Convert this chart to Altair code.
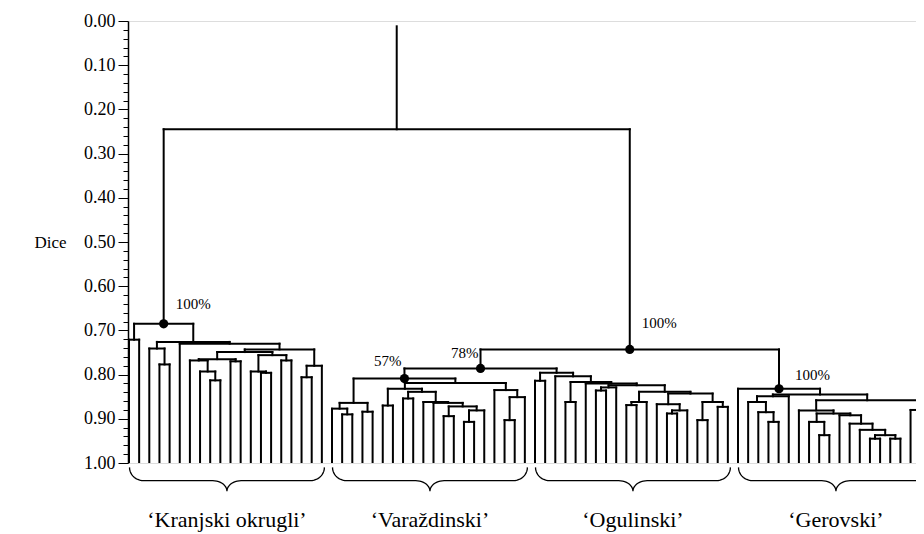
import altair as alt
import pandas as pd
import numpy as np

# ---------------- data: dendrogram (height, left, right); ints are leaf indices ----------------
kranjski = (0.685, (0.721, 0, 1),
            (0.726, (0.741, 2, (0.777, 3, 4)),
                    (0.730, 5,
                     (0.743,
                      (0.749,
                       (0.765, (0.768, 6, (0.793, 7, (0.813, 8, 9))), (0.770, 10, 11)),
                       (0.756, (0.793, 12, (0.796, 13, 14)), (0.768, 15, 16))),
                      (0.780, (0.806, 17, 18), 19)))))

varazdinski = (0.809,
               (0.864, (0.877, 20, (0.890, 21, 22)), (0.884, 23, 24)),
               (0.819,
                (0.832, (0.870, 25, 26),
                 (0.839, (0.854, 27, 28),
                  (0.862, 29, (0.864, 30, (0.872, (0.894, 31, 32),
                                           (0.881, (0.907, 33, 34), 35)))))),
                (0.835, 36, (0.851, (0.903, 37, 38), 39))))

ogulinski = (0.796, (0.814, 40, 41),
             (0.804, 42,
              (0.817, (0.862, 43, 44),
               (0.820, 45,
                (0.824, (0.829, (0.836, 46, 47), 48),
                 (0.839, (0.862, (0.869, 49, 50), 51),
                  (0.843, (0.867, 52, (0.881, (0.888, 53, 54), 55)),
                          (0.862, (0.903, 56, 57), (0.873, 58, 59)))))))))

gerovski = (0.832, 60,
            (0.845,
             (0.849, (0.862, 61, (0.885, 62, (0.907, 63, 64))), 65),
             (0.858,
              (0.881, 66,
               (0.888, (0.907, 67, (0.937, 68, 69)),
                (0.892, 70, (0.911, 71, (0.925, 72,
                                          (0.937, (0.945, 73, 74), (0.945, 75, 76))))))),
              (0.880, 77, (0.888, 78, 79)))))

node78 = (0.786, varazdinski, ogulinski)
nodeR = (0.743, node78, gerovski)
root = (0.245, kranjski, nodeR)
root_stem_top = 0.012

support_labels = ["100%", "57%", "78%", "100%", "100%"]
support_nodes = [kranjski, varazdinski, node78, nodeR, gerovski]

group_names = ["\u2018Kranjski okrugli\u2019", "\u2018Vara\u017edinski\u2019",
               "\u2018Ogulinski\u2019", "\u2018Gerovski\u2019"]
group_first = [0, 20, 40, 60]
group_last = [19, 39, 59, 79]

y_major = [0.0, 0.1, 0.2, 0.3, 0.4, 0.5, 0.6, 0.7, 0.8, 0.9, 1.0]
y_minor_step = 0.02

# ---------------- geometry from the tree ----------------
def pos(node):
    if isinstance(node, int):
        return float(node), 1.0
    h, l, r = node
    return (pos(l)[0] + pos(r)[0]) / 2.0, h

segs = []
def collect(node):
    if isinstance(node, int):
        return
    h, l, r = node
    xl, hl = pos(l)
    xr, hr = pos(r)
    segs.append((xl, xr, h, h))
    segs.append((xl, xl, h, hl))
    segs.append((xr, xr, h, hr))
    collect(l)
    collect(r)

collect(root)
rx, rh = pos(root)
segs.append((rx, rx, root_stem_top, rh))
seg_df = pd.DataFrame(segs, columns=["x", "x2", "y", "y2"])

dots = pd.DataFrame([{"x": pos(n)[0], "y": pos(n)[1], "label": lab}
                     for n, lab in zip(support_nodes, support_labels)])

# braces
brace_top, brace_mid, brace_tip, brace_r = 1.010, 1.040, 1.064, 1.4
brace_rows = []
for g, f, la in zip(group_names, group_first, group_last):
    s, e = f + 0.05, la + 0.25
    m = (s + e) / 2
    pts = []
    t = np.linspace(0, np.pi / 2, 12)
    pts += list(zip(s + brace_r * (1 - np.cos(t)), brace_top + (brace_mid - brace_top) * np.sin(t)))
    pts += list(zip(m - brace_r + brace_r * np.sin(t), brace_mid + (brace_tip - brace_mid) * (1 - np.cos(t))))
    pts += list(zip(m + brace_r - brace_r * np.sin(t[::-1]), brace_mid + (brace_tip - brace_mid) * (1 - np.cos(t[::-1]))))
    pts += list(zip(e - brace_r * (1 - np.cos(t[::-1])), brace_top + (brace_mid - brace_top) * np.sin(t[::-1])))
    for i, (px, py) in enumerate(pts):
        brace_rows.append({"group": g, "order": i, "x": px, "y": py})
brace_df = pd.DataFrame(brace_rows)

label_y = 1.145
glab_df = pd.DataFrame({"x": [(f + 0.05 + la + 0.25) / 2 for f, la in zip(group_first, group_last)],
                        "y": [label_y] * 4, "label": group_names})

# ---------------- encodings ----------------
FONT = "Liberation Serif"
spacing = 10.15
W, H = 788, 442
x_lo = -1.0 / spacing
x_hi = x_lo + W / spacing

minor_vals = [round(i * y_minor_step, 2) for i in range(int(round(1 / y_minor_step)) + 1)]
major_test = "abs(datum.value * 10 - round(datum.value * 10)) < 0.001"

yscale = alt.Scale(domain=[0, 1], reverse=True, nice=False, zero=False)
yaxis = alt.Axis(values=minor_vals,
                 labelExpr=f"({major_test}) ? format(datum.value, '.2f') : ''",
                 tickSize={"condition": {"test": major_test, "value": 10}, "value": 5},
                 labelFont=FONT, labelFontSize=18, labelColor="black", labelPadding=3,
                 labelOverlap=False, labelFlush=False,
                 tickColor="black", tickWidth=1, domainColor="black", domainWidth=1.5,
                 grid=False, title="Dice", titleAngle=0, titleFont=FONT, titleFontSize=17,
                 titleFontWeight="normal", titleColor="black", titleX=-78, titleY=221,
                 titleAlign="center", titleBaseline="middle")
xenc = alt.X("x:Q", scale=alt.Scale(domain=[x_lo, x_hi], nice=False, zero=False), axis=None)
yenc = alt.Y("y:Q", scale=yscale, axis=yaxis)

rules = alt.Chart(seg_df).mark_rule(color="black", strokeWidth=2, strokeCap="square", clip=True).encode(
    x=xenc, x2="x2:Q", y=yenc, y2="y2:Q")

circles = alt.Chart(dots).mark_circle(size=85, color="black", opacity=1, clip=True).encode(x=xenc, y=yenc)

label_styles = [dict(align="left", dx=12, dy=-20), dict(align="right", dx=-3, dy=-18),
                dict(align="right", dx=-2, dy=-15), dict(align="left", dx=12, dy=-26),
                dict(align="left", dx=16, dy=-14)]
sup_layers = []
for i, st in enumerate(label_styles):
    sup_layers.append(alt.Chart(dots.iloc[[i]]).mark_text(font=FONT, fontSize=15, color="black",
                                                          baseline="middle", **st).encode(
        x=xenc, y=yenc, text="label:N"))

braces = alt.Chart(brace_df).mark_line(color="black", strokeWidth=1.3).encode(
    x=xenc, y=yenc, detail="group:N", order="order:Q")

glabels = alt.Chart(glab_df).mark_text(font=FONT, fontSize=22, color="black", baseline="alphabetic",
                                       align="center").encode(x=xenc, y=yenc, text="label:N")

chart = alt.layer(rules, circles, *sup_layers, braces, glabels).properties(
    width=W, height=H,
    padding={"left": 120, "top": 13, "right": 0, "bottom": 74},
    autosize=alt.AutoSizeParams(type="none"),
).configure_view(stroke=None).configure(background="white")

chart.save("out.html", embed_options={"renderer": "svg", "actions": False})
